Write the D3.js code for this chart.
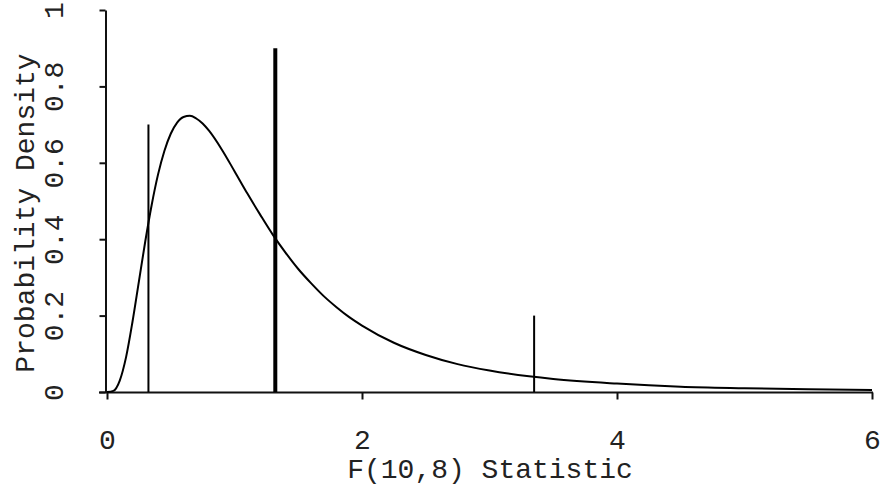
<!DOCTYPE html>
<html>
<head>
<meta charset="utf-8">
<script src="https://cdn.jsdelivr.net/npm/d3@7"></script>
<style>
  body { margin: 0; background: #fff; }
  svg text { font-family: "Liberation Mono", "DejaVu Sans Mono", monospace; fill: #222; }
</style>
</head>
<body>
<div id="chart"></div>
<script>
// density curve of F(10,8)
var curveX = [0, 0.05, 0.1, 0.15, 0.2, 0.25, 0.3, 0.35, 0.4, 0.45, 0.5, 0.55, 0.6, 0.65, 0.7, 0.75, 0.8, 0.9,
  1.0, 1.1, 1.2, 1.3, 1.4, 1.5, 1.6, 1.7, 1.8, 1.9, 2.0, 2.25, 2.5, 2.75, 3.0, 3.5,
  4.0, 4.5, 5.0, 5.5, 6.0];
var curveY = [0, 0.003, 0.030, 0.092, 0.184, 0.289, 0.394, 0.489, 0.569, 0.631, 0.676, 0.705, 0.720, 0.723, 0.716, 0.703, 0.684, 0.635,
  0.578, 0.520, 0.465, 0.412, 0.365, 0.322, 0.285, 0.251, 0.222, 0.196, 0.174, 0.129, 0.097, 0.073, 0.056, 0.034,
  0.022, 0.014, 0.010, 0.007, 0.005];

// vertical marker lines: position, height, thick or not
var markX = [0.325, 1.32, 3.35];
var markH = [0.7, 0.9, 0.2];
var markThick = [false, true, false];

var xTicks = [0, 2, 4, 6];
var yTicks = [0, 0.2, 0.4, 0.6, 0.8, 1];
var yTickLabels = ["0", "0.2", "0.4", "0.6", "0.8", "1"];

var width = 881, height = 486;

var svg = d3.select("#chart")
    .append("svg")
    .attr("width", width)
    .attr("height", height);

var x = d3.scaleLinear().domain([0, 6]).range([107, 872]);
var y = d3.scaleLinear().domain([0, 1]).range([392, 10]);

// x axis
var xAxis = svg.append("g")
    .attr("transform", "translate(0,392.5)")
    .call(d3.axisBottom(x).tickValues(xTicks).tickFormat(d3.format("d")).tickSize(7).tickSizeOuter(0));
xAxis.select(".domain").attr("stroke", "#111").attr("stroke-width", 2).attr("d", "M99,0H873");
xAxis.selectAll(".tick line").attr("stroke", "#111").attr("stroke-width", 2);
xAxis.selectAll(".tick text")
    .attr("y", 56)
    .attr("dy", null)
    .style("font-size", "28px");

// y axis
var yAxis = svg.append("g")
    .attr("transform", "translate(105.5,0)")
    .call(d3.axisLeft(y).tickValues(yTicks).tickFormat(function (d, i) {
        return yTickLabels[i];
    }).tickSize(6).tickSizeOuter(0));
yAxis.select(".domain").attr("stroke", "#111").attr("stroke-width", 2);
yAxis.selectAll(".tick line").attr("stroke", "#111").attr("stroke-width", 2);
yAxis.selectAll(".tick text")
    .attr("transform", "rotate(-90)")
    .attr("x", 0)
    .attr("y", -42.5)
    .attr("dy", null)
    .attr("text-anchor", "middle")
    .style("font-size", "28px");

// axis titles
svg.append("text")
    .attr("x", 490)
    .attr("y", 478)
    .attr("text-anchor", "middle")
    .style("font-size", "28px")
    .text("F(10,8) Statistic");

svg.append("text")
    .attr("transform", "translate(34,213) rotate(-90)")
    .attr("text-anchor", "middle")
    .style("font-size", "28px")
    .text("Probability Density");

// density curve
var line = d3.line()
    .x(function (d, i) { return x(curveX[i]); })
    .y(function (d) { return y(d); })
    .curve(d3.curveMonotoneX);

svg.append("path")
    .datum(curveY)
    .attr("fill", "none")
    .attr("stroke", "#000")
    .attr("stroke-width", 2)
    .attr("d", line);

// marker lines
svg.selectAll(".mark")
    .data(markX)
    .enter().append("line")
    .attr("class", "mark")
    .attr("x1", function (d) { return x(d); })
    .attr("x2", function (d) { return x(d); })
    .attr("y1", y(0))
    .attr("y2", function (d, i) { return y(markH[i]); })
    .attr("stroke", "#000")
    .attr("stroke-width", function (d, i) { return markThick[i] ? 4 : 2; });
</script>
</body>
</html>
